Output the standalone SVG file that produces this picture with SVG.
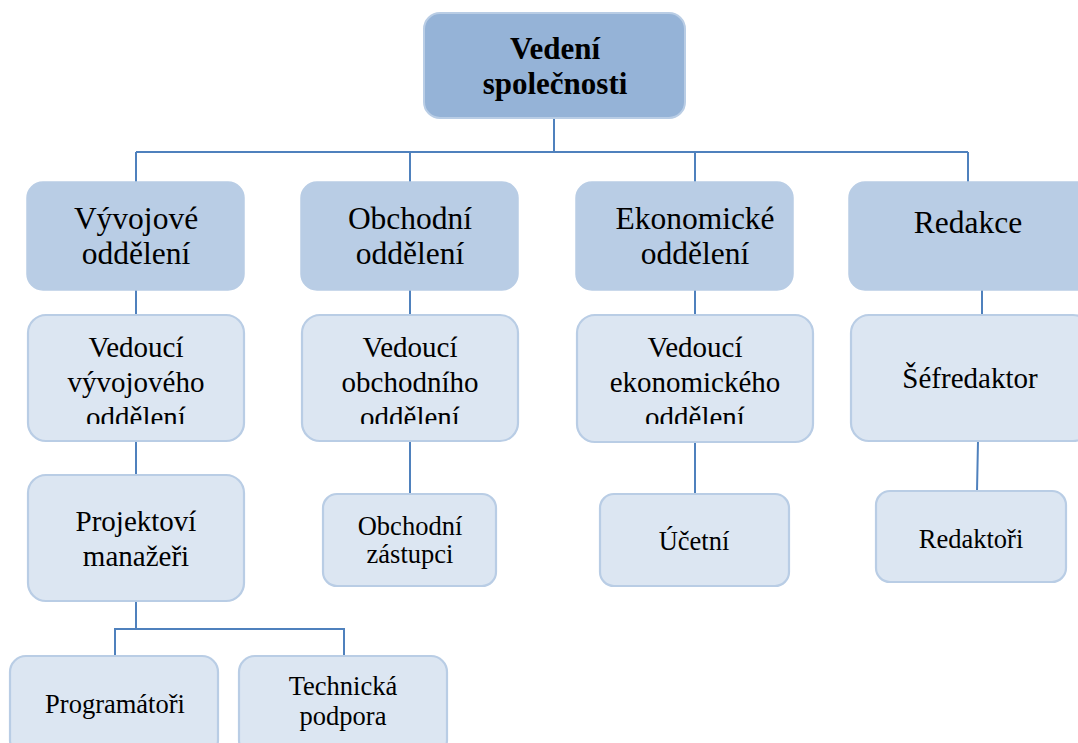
<svg xmlns="http://www.w3.org/2000/svg" width="1078" height="743" viewBox="0 0 1078 743" font-family="'Liberation Serif', serif">
  <style>
    .top { fill: #95B3D7; stroke: #B9CDE5; stroke-width: 2; }
    .l1 { fill: #B9CDE5; stroke: #B9CDE5; stroke-width: 1.5; }
    .l2 { fill: #DCE6F2; stroke: #B9CDE5; stroke-width: 2.2; }
    text { font-family: 'Liberation Serif', serif; fill: #000; text-anchor: middle; }
    .t0 { font-size: 31px; font-weight: bold; }
    .t1 { font-size: 31.5px; }
    .t2 { font-size: 29px; }
    .t3 { font-size: 26.5px; }
    .conn { fill: none; stroke: #4F81BD; stroke-width: 2; }
  </style>
  <defs>
    <!-- text area of the three-line boxes ends above the last descenders -->
    <clipPath id="clipRow2">
      <rect x="0" y="300" width="1078" height="124"/>
    </clipPath>
  </defs>

  <g id="connectors">
    <path class="conn" d="M554,118 V152 M136,152 H968 M136,152 V183 M410,152 V183 M695,152 V183 M968,152 V183"/>
    <path class="conn" d="M136,290 V315 M410,290 V315 M695,290 V315 M982,290 V315"/>
    <path class="conn" d="M136,441 V475 M410,441 V494 M695,442 V494 M978,441 L977,491"/>
    <path class="conn" d="M136,601 V629 M115,656 V629 H344 V656"/>
  </g>

  <g id="vedeni">
    <rect class="top" x="424" y="13" width="261" height="105" rx="16"/>
    <text class="t0" x="555" y="59">Vedení</text>
    <text class="t0" x="555" y="94">společnosti</text>
  </g>

  <g id="vyvojove">
    <rect class="l1" x="27" y="182" width="217" height="108" rx="16"/>
    <text class="t1" x="136" y="229">Vývojové</text>
    <text class="t1" x="136" y="264">oddělení</text>
  </g>
  <g id="obchodni">
    <rect class="l1" x="301" y="182" width="217" height="108" rx="16"/>
    <text class="t1" x="410" y="229">Obchodní</text>
    <text class="t1" x="410" y="264">oddělení</text>
  </g>
  <g id="ekonomicke">
    <rect class="l1" x="576" y="182" width="217" height="108" rx="16"/>
    <text class="t1" x="695" y="229">Ekonomické</text>
    <text class="t1" x="695" y="264">oddělení</text>
  </g>
  <g id="redakce">
    <rect class="l1" x="849" y="182" width="245" height="108" rx="16"/>
    <text class="t1" x="968" y="233">Redakce</text>
  </g>

  <g id="vedouci-vyvoj">
    <rect class="l2" x="28" y="315" width="216" height="126" rx="18"/>
    <g clip-path="url(#clipRow2)">
      <text class="t2" x="136" y="357">Vedoucí</text>
      <text class="t2" x="136" y="392">vývojového</text>
      <text class="t2" x="136" y="427">oddělení</text>
    </g>
  </g>
  <g id="vedouci-obchod">
    <rect class="l2" x="302" y="315" width="216" height="126" rx="18"/>
    <g clip-path="url(#clipRow2)">
      <text class="t2" x="410" y="357">Vedoucí</text>
      <text class="t2" x="410" y="392">obchodního</text>
      <text class="t2" x="410" y="427">oddělení</text>
    </g>
  </g>
  <g id="vedouci-ekonom">
    <rect class="l2" x="577" y="315" width="236" height="127" rx="18"/>
    <g clip-path="url(#clipRow2)">
      <text class="t2" x="695" y="357">Vedoucí</text>
      <text class="t2" x="695" y="392">ekonomického</text>
      <text class="t2" x="695" y="427">oddělení</text>
    </g>
  </g>
  <g id="sefredaktor">
    <rect class="l2" x="851" y="315" width="240" height="126" rx="18"/>
    <text class="t2" x="970" y="388">Šéfredaktor</text>
  </g>

  <g id="projektovi-manazeri">
    <rect class="l2" x="28" y="475" width="216" height="126" rx="18"/>
    <text class="t2" x="136" y="531">Projektoví</text>
    <text class="t2" x="136" y="566">manažeři</text>
  </g>
  <g id="obchodni-zastupci">
    <rect class="l2" x="323" y="494" width="173" height="92" rx="14"/>
    <text class="t3" x="410" y="535">Obchodní</text>
    <text class="t3" x="410" y="563">zástupci</text>
  </g>
  <g id="ucetni">
    <rect class="l2" x="600" y="494" width="189" height="92" rx="14"/>
    <text class="t3" x="694" y="550">Účetní</text>
  </g>
  <g id="redaktori">
    <rect class="l2" x="876" y="491" width="190" height="91" rx="14"/>
    <text class="t3" x="971" y="548">Redaktoři</text>
  </g>

  <g id="programatori">
    <rect class="l2" x="10" y="656" width="208" height="100" rx="16"/>
    <text class="t3" x="115" y="713">Programátoři</text>
  </g>
  <g id="technicka-podpora">
    <rect class="l2" x="239" y="656" width="208" height="100" rx="16"/>
    <text class="t3" x="343" y="695">Technická</text>
    <text class="t3" x="343" y="725">podpora</text>
  </g>
</svg>
